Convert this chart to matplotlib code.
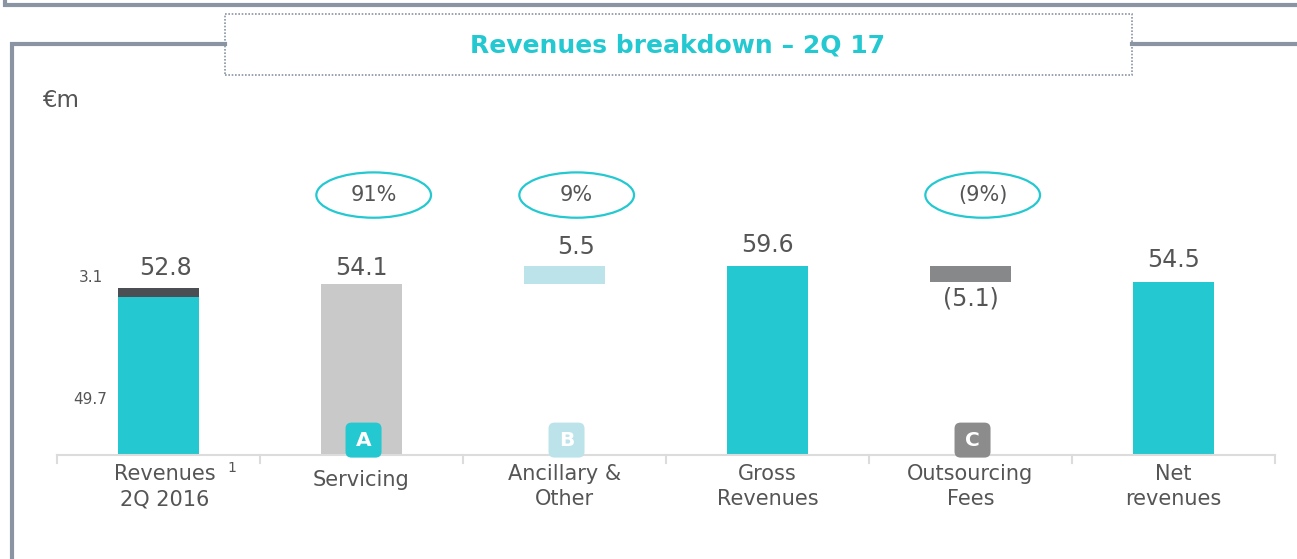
import matplotlib.pyplot as plt
from matplotlib.patches import Ellipse, FancyBboxPatch
from matplotlib.lines import Line2D

# data
categories = ['Revenues\n2Q 2016', 'Servicing', 'Ancillary &\nOther',
              'Gross\nRevenues', 'Outsourcing\nFees', 'Net\nrevenues']
prev_parts = [49.7, 3.1]          # 2Q 2016 split
servicing = 54.1
ancillary = 5.5
gross = 59.6
outsourcing = -5.1
net = 54.5
shares = ['91%', '9%', '(9%)']    # over Servicing, Ancillary, Outsourcing
share_pos = [1, 2, 4]
badges = ['A', 'B', 'C']

TEAL = '#24c8d0'
DARK = '#4b4e53'
LGRAY = '#c9c9c9'
LBLUE = '#bde3ea'
MGRAY = '#87888a'
TXT = '#555555'
FRAME = '#8a94a3'

W, H = 1297, 559
fig = plt.figure(figsize=(W / 100, H / 100), dpi=100)

def fx(px):
    return px / W

def fy(py):
    return 1 - py / H

# panel frames
fig.add_artist(Line2D([fx(5), fx(5), 1], [1, fy(5), fy(5)], color=FRAME, lw=3,
                      solid_joinstyle='miter'))
fig.add_artist(Line2D([fx(225), fx(12), fx(12)], [fy(44), fy(44), 0], color=FRAME, lw=3,
                      solid_joinstyle='miter'))
fig.add_artist(Line2D([fx(1132), 1], [fy(44), fy(44)], color=FRAME, lw=3))
# dotted title box
fig.add_artist(plt.Rectangle((fx(225), fy(75)), fx(1132) - fx(225), fy(14) - fy(75),
                             fill=False, ec=FRAME, lw=1.2, ls=(0, (1, 1))))
fig.text(fx(678), fy(45), 'Revenues breakdown \u2013 2Q 17', color=TEAL, fontsize=18,
         fontweight='bold', ha='center', va='center')
fig.text(fx(42), fy(100), '\u20acm', color=TXT, fontsize=16.5, ha='left', va='center')

ax = fig.add_axes([fx(57), fy(455), fx(1275) - fx(57), 317 / H])
ax.set_xlim(-0.5, 5.5)
ax.set_ylim(0, 100)
ax.axis('off')

bw = 0.40
# 2Q 2016 stacked
ax.bar(0, prev_parts[0], bw, color=TEAL)
ax.bar(0, prev_parts[1], bw, bottom=prev_parts[0], color=DARK)
prev_total = sum(prev_parts)
# servicing
ax.bar(1, servicing, bw, color=LGRAY)
# ancillary floating
ax.bar(2, ancillary, bw, bottom=servicing, color=LBLUE)
# gross
ax.bar(3, gross, bw, color=TEAL)
# outsourcing floating (negative)
ax.bar(4, -outsourcing, bw, bottom=gross + outsourcing, color=MGRAY)
# net
ax.bar(5, net, bw, color=TEAL)

vfs = 17
def top_label(x, y, s, dx=0, dy=14):
    ax.annotate(s, (x, y), xytext=(dx, dy), textcoords='offset points',
                ha='center', va='center', fontsize=vfs, color=TXT, annotation_clip=False)

top_label(0, prev_total, f'{prev_total:.1f}', dx=5)
top_label(1, servicing, f'{servicing:.1f}', dy=11)
top_label(2, servicing + ancillary, f'{ancillary:.1f}', dx=8)
top_label(3, gross, f'{gross:.1f}', dy=15)
ax.annotate(f'({-outsourcing:.1f})', (4, gross + outsourcing), xytext=(0, -12),
            textcoords='offset points', ha='center', va='center', fontsize=vfs, color=TXT)
top_label(5, net, f'{net:.1f}', dy=16)

# side labels on the stacked bar
ax.annotate(f'{prev_parts[1]:.1f}', (-0.5, prev_total), xytext=(33, 7),
            textcoords='offset points', ha='right', va='center', fontsize=11, color=TXT)
ax.annotate(f'{prev_parts[0]:.1f}', (-0.5, prev_parts[0] * 0.35), xytext=(36, 0),
            textcoords='offset points', ha='right', va='center', fontsize=11, color=TXT)

# share ovals
for s, p in zip(shares, share_pos):
    cx = p + 0.06
    ax.add_patch(Ellipse((cx, 82), 0.565, 14.3, fill=False, ec=TEAL, lw=1.6, clip_on=False))
    ax.text(cx, 82, s, ha='center', va='center', fontsize=15, color=TXT)

# badges
badge_col = [TEAL, LBLUE, '#8c8c8c']
bx_w = 36 / 203
bx_h = 35 / 3.17
for b, p, c in zip(badges, share_pos, badge_col):
    ax.add_patch(FancyBboxPatch((p + 0.01 - bx_w / 2, 4.7 - bx_h / 2), bx_w, bx_h,
                                boxstyle='round,pad=0,rounding_size=0.03',
                                mutation_aspect=bx_h / bx_w,
                                fc=c, ec='none', clip_on=False, zorder=5))
    ax.text(p + 0.01, 4.7, b, ha='center', va='center', fontsize=14.5, color='white',
            fontweight='bold', zorder=6)

# baseline and separators
ax.add_artist(Line2D([-0.5, 5.5], [0, 0], color='#dcdcdc', lw=1.5, clip_on=False, zorder=1))
for i in range(7):
    ax.add_artist(Line2D([i - 0.5, i - 0.5], [0, -2.6], color='#dcdcdc', lw=1.5,
                         clip_on=False))

# category labels
for i, c in enumerate(categories):
    y = -8 if '\n' not in c else -10
    ax.text(i + (0.03 if i == 0 else 0), y, c, ha='center', va='center',
            fontsize=15, color=TXT, linespacing=1.3)
ax.annotate('1', (0, -4), xytext=(53, 0), textcoords='offset points',
            ha='center', va='center', fontsize=10, color=TXT, annotation_clip=False)

fig.savefig('out.png', dpi=100)
